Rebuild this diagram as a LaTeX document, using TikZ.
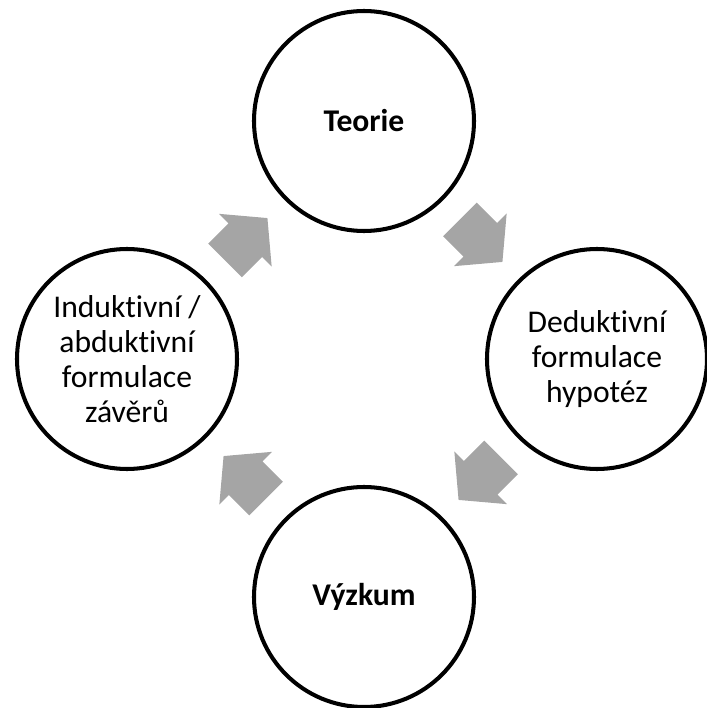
\documentclass[tikz,border=0pt]{standalone}
\usepackage{fontspec}
\setmainfont[Ligatures=NoCommon]{Carlito}
\usetikzlibrary{shapes.arrows,calc}
\definecolor{arrowgray}{HTML}{A5A5A5}

\begin{document}
\begin{tikzpicture}[
		stage/.style={circle,draw,line width=2.3pt,minimum size=4.4cm,inner sep=0pt,
			align=center,font=\fontsize{18}{20}\selectfont},
		flow/.style={single arrow,fill=arrowgray,draw=none,minimum height=1.2cm,
			inner xsep=0pt,inner ysep=0.47cm,single arrow head extend=0.27cm,
			single arrow tip angle=100,rotate=#1,xshift=-0.18cm}
	]
	\useasboundingbox (0,0) rectangle (14.14,14.16);
	% the four stages
	\node[stage] (teorie) at (7.28,11.74) {\textbf{Teorie}};
	\node[stage] (dedukce) at (11.94,6.98) {Deduktivní\\formulace\\hypotéz};
	\node[stage] (vyzkum) at (7.28,2.22) {\textbf{Výzkum}};
	\node[stage] (indukce) at (2.54,6.98) {Induktivní /\\abduktivní\\formulace\\závěrů};
	% arrows between them
	\node[flow=45] (a1) at ($(indukce)!0.5!(teorie)$) {};
	\node[flow=-45] (a2) at ($(teorie)!0.5!(dedukce)$) {};
	\node[flow=-135] (a3) at ($(dedukce)!0.5!(vyzkum)$) {};
	\node[flow=135] (a4) at ($(vyzkum)!0.5!(indukce)$) {};
\end{tikzpicture}
\end{document}
